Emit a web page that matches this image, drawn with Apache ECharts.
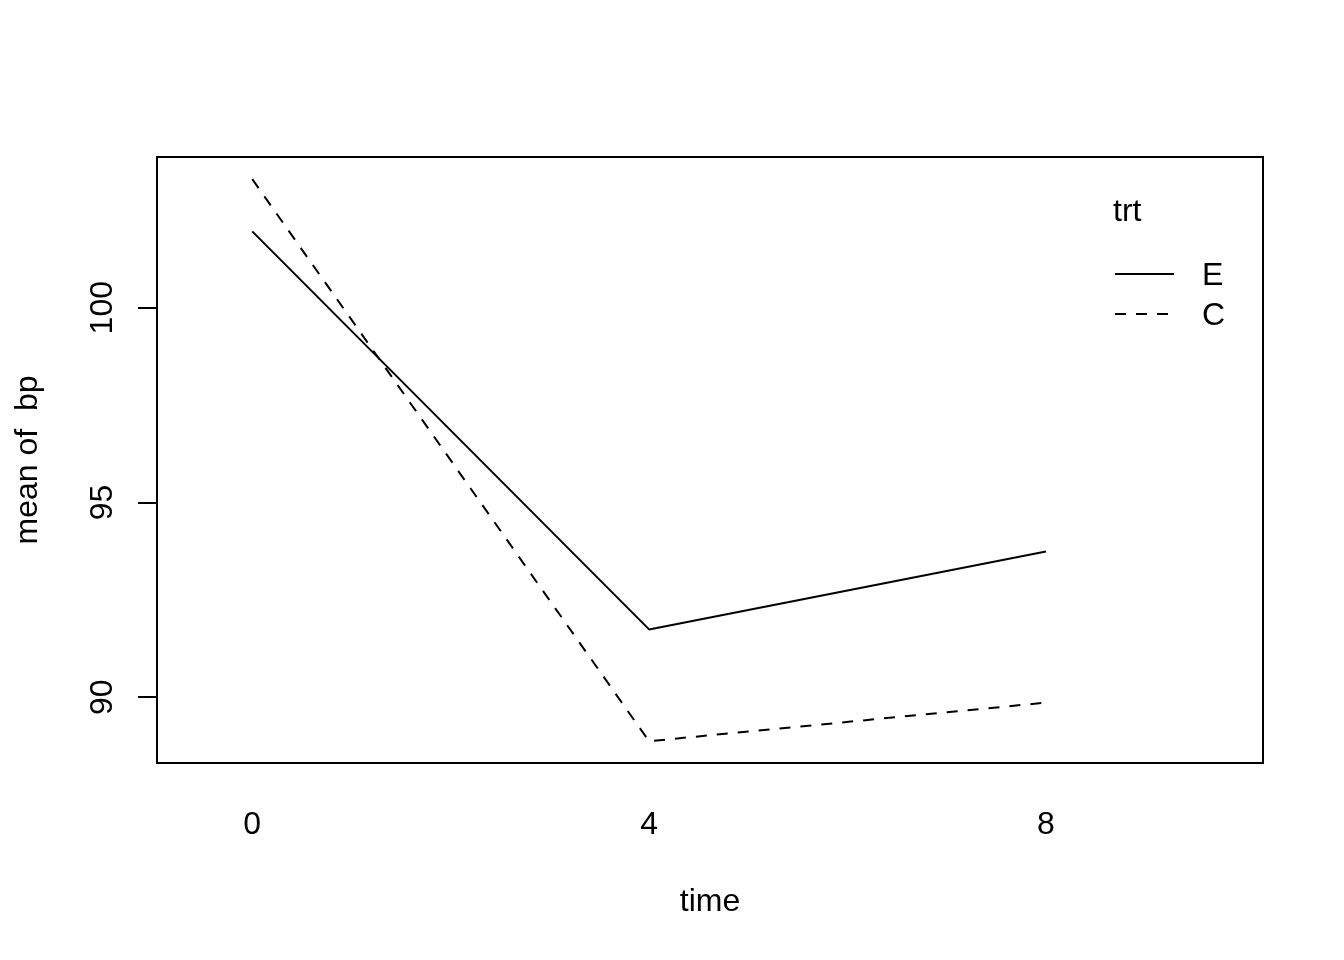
<!DOCTYPE html>
<html>
<head>
<meta charset="utf-8">
<script src="https://cdn.jsdelivr.net/npm/echarts@6/dist/echarts.min.js"></script>
<style>
  html, body { margin: 0; padding: 0; background: #fff; }
  #chart { width: 1344px; height: 960px; }
</style>
</head>
<body>
<div id="chart"></div>
<script>
// time levels (x axis categories) and their positions 1..3
var times = ['0', '4', '8'];
var timePos = [1, 2, 3];
// mean of bp per trt level
var meanE = [101.96, 91.74, 93.74];
var meanC = [103.30, 88.87, 89.86];
var yTicks = [90, 95, 100];
var legendNames = ['E', 'C'];

var font = 'Liberation Sans, Arial, Helvetica, sans-serif';

function pairs(vals) {
  return vals.map(function (v, i) { return [timePos[i], v]; });
}

var chart = echarts.init(document.getElementById('chart'));
chart.setOption({
  animation: false,
  backgroundColor: '#fff',
  grid: {
    left: 157, right: 81, top: 157, bottom: 197,
    show: true, borderColor: '#000', borderWidth: 2
  },
  xAxis: {
    type: 'value',
    min: 0.76,
    max: 3.547,
    name: 'time',
    nameLocation: 'middle',
    nameGap: 123,
    nameTextStyle: { fontFamily: font, fontSize: 32, color: '#000' },
    axisLine: { show: false },
    axisTick: { show: false },
    splitLine: { show: false },
    axisLabel: {
      customValues: timePos,
      formatter: function (v) { return times[timePos.indexOf(v)]; },
      fontFamily: font, fontSize: 32, color: '#000', margin: 46
    }
  },
  yAxis: {
    type: 'value',
    min: 88.31,
    max: 103.87,
    name: 'mean of  bp',
    nameLocation: 'middle',
    nameRotate: 90,
    nameGap: 113,
    nameTextStyle: { fontFamily: font, fontSize: 32, color: '#000' },
    axisLine: { show: false },
    splitLine: { show: false },
    axisTick: {
      customValues: yTicks,
      length: 19,
      lineStyle: { color: '#000', width: 2 }
    },
    axisLabel: {
      customValues: yTicks,
      rotate: 90,
      fontFamily: font, fontSize: 32, color: '#000', margin: 38
    }
  },
  series: [
    {
      name: legendNames[0],
      type: 'line',
      data: pairs(meanE),
      symbol: 'none',
      lineStyle: { color: '#000', width: 2, type: 'solid' }
    },
    {
      name: legendNames[1],
      type: 'line',
      data: pairs(meanC),
      symbol: 'none',
      lineStyle: { color: '#000', width: 2, type: [11, 10] }
    }
  ],
  // legend drawn R-style: title, line sample, label
  graphic: [
    { type: 'text', left: 1113, top: 196, style: { text: 'trt', font: '32px ' + font, fill: '#000' } },
    { type: 'line', shape: { x1: 1115, y1: 274, x2: 1174, y2: 274 }, style: { stroke: '#000', lineWidth: 2 } },
    { type: 'line', shape: { x1: 1115, y1: 314, x2: 1174, y2: 314 }, style: { stroke: '#000', lineWidth: 2, lineDash: [11, 10] } },
    { type: 'text', left: 1202, top: 260, style: { text: legendNames[0], font: '32px ' + font, fill: '#000' } },
    { type: 'text', left: 1202, top: 300, style: { text: legendNames[1], font: '32px ' + font, fill: '#000' } }
  ]
});
</script>
</body>
</html>
